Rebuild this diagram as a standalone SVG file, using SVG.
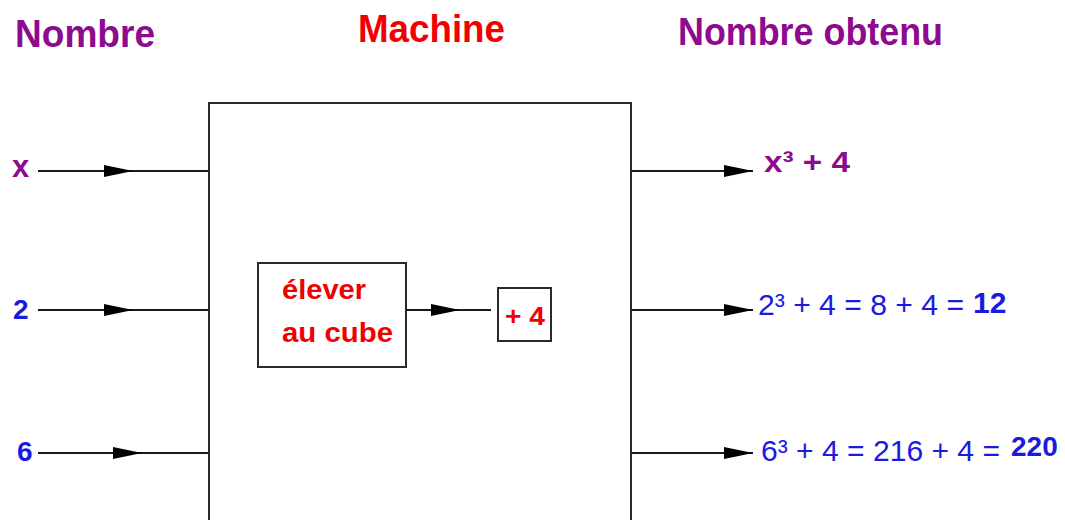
<svg xmlns="http://www.w3.org/2000/svg" width="1065" height="520" viewBox="0 0 1065 520">
  <defs>
    <marker id="head" markerWidth="29" markerHeight="13" refX="29" refY="6.5" orient="auto" markerUnits="userSpaceOnUse">
      <path d="M0,0.5 L29,6.5 L0,12.5 Z" fill="#000"/>
    </marker>
    <style>
      text { font-family: "Liberation Sans", Arial, sans-serif; }
      .title { font-size: 37px; font-weight: bold; }
      .purple { fill: #8e0a8e; }
      .red { fill: #f00000; }
      .blue { fill: #1a1ae0; }
      .bold { font-weight: bold; }
      .box { fill: #fff; stroke: #2a2a2a; stroke-width: 2; }
      .wire { stroke: #1a1a1a; stroke-width: 2; fill: none; }
    </style>
  </defs>
  <rect width="1065" height="520" fill="#fff"/>

  <!-- column headings -->
  <text class="title purple" transform="translate(15,47) scale(1,1.06)" textLength="140" lengthAdjust="spacingAndGlyphs">Nombre</text>
  <text class="title red" transform="translate(358,42) scale(1,1.06)" textLength="147" lengthAdjust="spacingAndGlyphs">Machine</text>
  <text class="title purple" transform="translate(678,45) scale(1,1.06)" textLength="265" lengthAdjust="spacingAndGlyphs">Nombre obtenu</text>

  <!-- machine body -->
  <g id="machine">
    <rect class="box" x="209" y="103" width="422" height="420"/>
  </g>

  <g id="cube">
    <rect class="box" x="258" y="263" width="148" height="104"/>
    <text class="red bold" x="282" y="299" font-size="27" textLength="84" lengthAdjust="spacingAndGlyphs">élever</text>
    <text class="red bold" x="282" y="342" font-size="27" textLength="111" lengthAdjust="spacingAndGlyphs">au cube</text>
  </g>

  <g id="plus4">
    <rect class="box" x="498" y="288" width="53" height="53"/>
    <text class="red bold" x="505" y="325" font-size="26" textLength="40" lengthAdjust="spacingAndGlyphs">+ 4</text>
  </g>

  <!-- inputs -->
  <g id="in-x"><text class="purple bold" x="12" y="177" font-size="31">x</text></g>
  <g id="in-2"><text class="blue bold" x="13" y="319" font-size="28">2</text></g>
  <g id="in-6"><text class="blue bold" x="17" y="461" font-size="28">6</text></g>

  <!-- outputs -->
  <g id="out-x">
    <text class="purple bold" x="764" y="172" font-size="29" textLength="86" lengthAdjust="spacingAndGlyphs">x³ + 4</text>
  </g>
  <g id="out-2">
    <text class="blue" x="758" y="315" font-size="30" textLength="206" lengthAdjust="spacingAndGlyphs">2³ + 4 = 8 + 4 =</text>
    <text class="blue bold" x="973" y="313" font-size="30">12</text>
  </g>
  <g id="out-6">
    <text class="blue" x="761" y="461" font-size="30" textLength="239" lengthAdjust="spacingAndGlyphs">6³ + 4 = 216 + 4 =</text>
    <text class="blue bold" x="1011" y="456" font-size="28">220</text>
  </g>

  <!-- connectors -->
  <g id="connectors">
    <line class="wire" x1="38" y1="171" x2="133" y2="171" marker-end="url(#head)"/>
    <line class="wire" x1="133" y1="171" x2="209" y2="171"/>
    <line class="wire" x1="38" y1="310" x2="133" y2="310" marker-end="url(#head)"/>
    <line class="wire" x1="133" y1="310" x2="209" y2="310"/>
    <line class="wire" x1="38" y1="453" x2="142" y2="453" marker-end="url(#head)"/>
    <line class="wire" x1="142" y1="453" x2="209" y2="453"/>

    <line class="wire" x1="406" y1="310" x2="460" y2="310" marker-end="url(#head)"/>
    <line class="wire" x1="460" y1="310" x2="491" y2="310"/>

    <line class="wire" x1="631" y1="171" x2="753" y2="171" marker-end="url(#head)"/>
    <line class="wire" x1="631" y1="310" x2="753" y2="310" marker-end="url(#head)"/>
    <line class="wire" x1="631" y1="453" x2="753" y2="453" marker-end="url(#head)"/>
  </g>
</svg>
